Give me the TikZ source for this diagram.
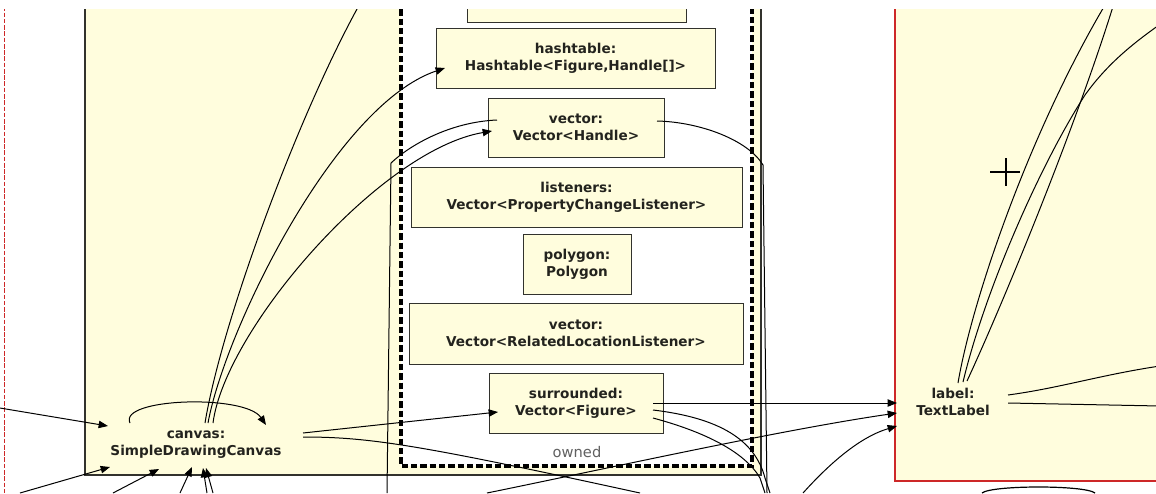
\documentclass[tikz,border=0pt]{standalone}
\usepackage{fontspec}
\setmainfont{DejaVu Sans}
\usetikzlibrary{arrows.meta,calc}
\definecolor{cream}{RGB}{255,253,221}
\definecolor{boxline}{RGB}{50,50,45}
\definecolor{redline}{RGB}{205,40,40}
\definecolor{inktext}{RGB}{35,35,30}

\begin{document}
\begin{tikzpicture}[x=0.75pt,y=-0.75pt,
  obj/.style={font=\fontsize{10.2}{12.75}\selectfont\bfseries, text=inktext, align=center, inner sep=0pt},
  objbox/.style={obj, draw=boxline, fill=cream, line width=0.75pt},
  link/.style={line width=0.75pt, black},
  tip/.style={-{Triangle[length=7pt,width=5.5pt]}},
]
\useasboundingbox (0,0) rectangle (1156,493);
\fill[white] (0,0) rectangle (1156,493);
\begin{scope}
\clip (0,9) rectangle (1156,493);

% containers
\fill[cream] (85,0) rectangle (761,475);
\draw[boxline, line width=0.8pt] (85,0) -- (85,475) -- (761,475) -- (761,0);
\fill[white] (401,0) rectangle (752,466);
\draw[black, line width=2.6pt, dash pattern=on 4.8pt off 2.2pt] (401,0) -- (401,466) -- (752,466) -- (752,0);
\draw[redline, fill=cream, line width=1pt] (1170,0) -- (895,0) -- (895,481) -- (1170,481);
\draw[redline, line width=1pt, dash pattern=on 3.5pt off 1.2pt] (4.5,0) -- (4.5,493);

% objects
\node[objbox, minimum width=164.25pt, minimum height=30pt] (prev) at (576.5,2) {};
\node[objbox, minimum width=209.25pt, minimum height=45pt] (hash) at (575.5,58) {hashtable:\\Hashtable<Figure,Handle[]>};
\node[objbox, minimum width=132pt, minimum height=44.25pt] (vech) at (576,127.5) {vector:\\Vector<Handle>};
\node[objbox, minimum width=248.25pt, minimum height=45pt] (listen) at (576.5,197) {listeners:\\Vector<PropertyChangeListener>};
\node[objbox, minimum width=81pt, minimum height=45pt] (poly) at (577,264) {polygon:\\Polygon};
\node[objbox, minimum width=250.5pt, minimum height=45.75pt] (vecrl) at (576,333.5) {vector:\\Vector<RelatedLocationListener>};
\node[objbox, minimum width=130.5pt, minimum height=45pt] (surr) at (576,403) {surrounded:\\Vector<Figure>};
\node[obj] (canvas) at (196,445) {canvas:\\SimpleDrawingCanvas};
\node[obj] (label) at (953,402) {label:\\TextLabel};
\node[font=\fontsize{11}{13}\selectfont, text=black!62, inner sep=0pt] (owned) at (577,452) {owned};

% loose ends of links leaving the view
\coordinate (outA) at (362,0);
\coordinate (outB) at (387,493);
\coordinate (outC) at (767,493);
\coordinate (outD) at (640,493);
\coordinate (outE) at (770,493);
\coordinate (outF) at (765,493);
\coordinate (inG) at (487,493);
\coordinate (inH) at (803,493);
\coordinate (inI) at (0,408);
\coordinate (inJ) at (20,493);
\coordinate (inK) at (113,493);
\coordinate (inL) at (180,493);
\coordinate (inM) at (207,493);
\coordinate (inN) at (213,493);
\coordinate (outP) at (1108,0);
\coordinate (outQ) at (1172,16);
\coordinate (outR) at (1115,0);
\coordinate (outS) at (1160,366);
\coordinate (outT) at (1160,406);
\coordinate (loopL) at (982,493);
\coordinate (loopR) at (1095,493);

% links from canvas
\draw[link] ($(canvas)+(9,-22)$) .. controls (222,320) and (300,110) .. (outA);
\draw[link,tip] ($(canvas)+(12,-22)$) .. controls (225,330) and (335,105) .. ($(hash)+(-130.5,10)$);
\draw[link,tip] ($(canvas)+(17,-22)$) .. controls (225,330) and (380,150) .. ($(vech)+(-84,3.5)$);
\draw[link,tip] ($(canvas)+(107,-12)$) -- ($(surr)+(-78,9)$);
\draw[link] ($(canvas)+(107,-8)$) .. controls (370,437) and (420,445) .. (outD);
\draw[link,tip] ($(canvas)+(-66,-22)$) .. controls (118,398) and (245,394) .. ($(canvas)+(70,-20)$);

% links into canvas
\draw[link,tip] (inI) -- ($(canvas)+(-88,-19)$);
\draw[link,tip] (inJ) -- ($(canvas)+(-86,22)$);
\draw[link,tip] (inK) -- ($(canvas)+(-37,24)$);
\draw[link,tip] (inL) -- ($(canvas)+(-4,22)$);
\draw[link,tip] (inM) -- ($(canvas)+(7,23)$);
\draw[link,tip] (inN) -- ($(canvas)+(10,23)$);

% links from the owned vectors
\draw[link] ($(vech)+(-79,-7.5)$) .. controls (450,122) and (410,145) .. (391,163) -- (outB);
\draw[link] ($(vech)+(81,-6.5)$) .. controls (700,122) and (748,140) .. (763,165) -- (outC);
\draw[link,tip] ($(surr)+(77,0)$) -- ($(label)+(-56,1)$);
\draw[link] ($(surr)+(77,7)$) .. controls (720,418) and (755,440) .. (765,478) -- (outE);
\draw[link] ($(surr)+(77,15)$) .. controls (705,432) and (745,452) .. (760,478) -- (outF);

% links into label
\draw[link,tip] (inG) .. controls (600,470) and (780,430) .. ($(label)+(-56,11)$);
\draw[link,tip] (inH) .. controls (830,463) and (860,437) .. ($(label)+(-56,24)$);

% links from label
\draw[link] ($(label)+(5,-19)$) .. controls (972,300) and (1030,130) .. (outP);
\draw[link] ($(label)+(10,-20)$) .. controls (985,290) and (1040,165) .. (1085,95)
            .. controls (1110,60) and (1140,38) .. (outQ);
\draw[link] ($(label)+(14,-21)$) .. controls (1000,310) and (1075,130) .. (outR);
\draw[link] ($(label)+(55,-7)$) .. controls (1060,388) and (1100,375) .. (outS);
\draw[link] ($(label)+(55,1)$) -- (outT);

% arc of a neighbouring object below
\draw[link, line width=0.9pt] (loopL) .. controls (992,485) and (1085,485) .. (loopR);

% pointer cursor
\draw[black, line width=0.9pt] (990,172) -- (1020,172) (1006,158) -- (1006,186);
\end{scope}
\end{tikzpicture}
\end{document}
